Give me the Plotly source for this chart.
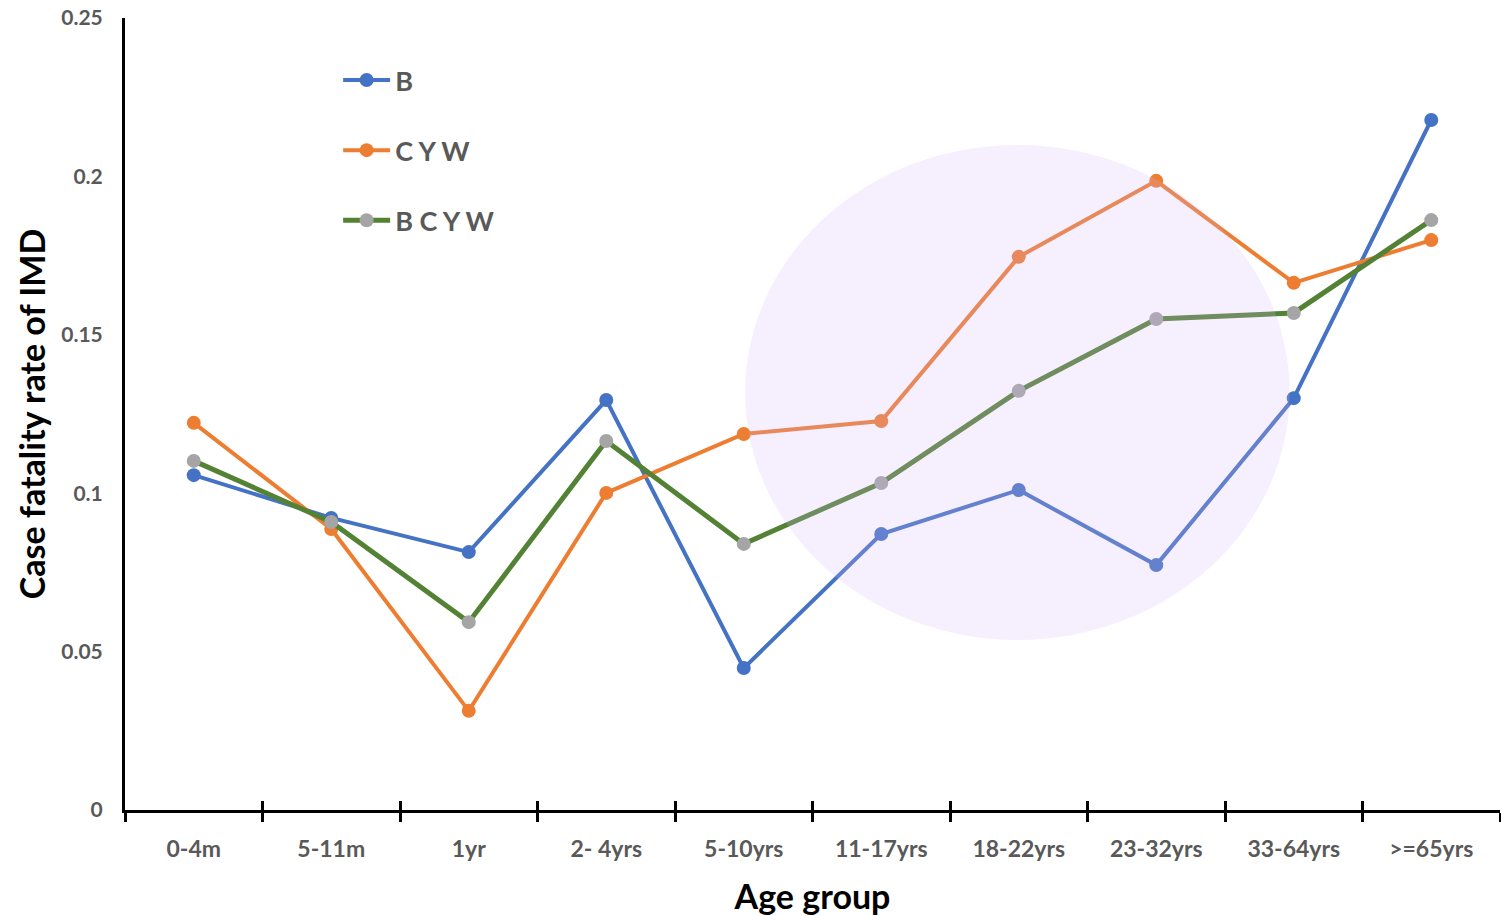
import plotly.graph_objects as go

age_groups = ["0-4m", "5-11m", "1yr", "2- 4yrs", "5-10yrs", "11-17yrs",
              "18-22yrs", "23-32yrs", "33-64yrs", ">=65yrs"]
b_vals = [0.1057, 0.0922, 0.0814, 0.1294, 0.0448, 0.0871, 0.1010, 0.0773, 0.1300, 0.2178]
cyw_vals = [0.1222, 0.0887, 0.0313, 0.1001, 0.1187, 0.1228, 0.1746, 0.1986, 0.1664, 0.1799]
bcyw_vals = [0.1102, 0.0909, 0.0593, 0.1165, 0.0840, 0.1032, 0.1323, 0.1550, 0.1569, 0.1862]
y_ticks = [0, 0.05, 0.1, 0.15, 0.2, 0.25]
y_tick_text = ["0", "0.05", "0.1", "0.15", "0.2", "0.25"]

FONT = "Lato"
GRAY = "#595959"

fig = go.Figure()
series = [
    ("B", b_vals, "#4472C4", "#4472C4", 4),
    ("C Y W", cyw_vals, "#ED7D31", "#ED7D31", 4),
    ("B C Y W", bcyw_vals, "#548235", "#A5A5A5", 5),
]
for i, (name, vals, lc, mc, lw) in enumerate(series):
    fig.add_trace(go.Scatter(
        x=age_groups, y=vals, name=name, mode="lines+markers",
        line=dict(color=lc, width=lw),
        marker=dict(color=mc, size=14, line=dict(width=0)),
        legendgroup=f"g{i}",
    ))

# invisible trace to carry the inside ticks of the overlay axis
fig.add_trace(go.Scatter(x=age_groups, y=b_vals, xaxis="x2", mode="lines",
                         line=dict(width=0), opacity=0, showlegend=False,
                         hoverinfo="skip"))

# highlight ellipse
fig.add_shape(type="circle", xref="x", yref="y",
              x0=4.01, x1=7.97, y0=0.0537, y1=0.2099,
              fillcolor="rgba(215,180,245,0.22)", line=dict(width=0),
              layer="above")

fig.update_layout(
    width=1501, height=916,
    margin=dict(l=125, r=1, t=18, b=106, autoexpand=False),
    plot_bgcolor="white", paper_bgcolor="white",
    font=dict(family=FONT, color=GRAY),
    showlegend=True,
    legend=dict(x=0.155, y=0.952, xanchor="left", yanchor="top",
                bgcolor="rgba(0,0,0,0)", tracegroupgap=32,
                font=dict(family=FONT, size=27, color=GRAY, weight="bold"),
                itemwidth=47),
    xaxis=dict(
        type="category", categoryorder="array", categoryarray=age_groups,
        range=[-0.5, 9.5], showline=True, linecolor="black", linewidth=3,
        ticks="outside", tickson="boundaries", ticklen=9, tickwidth=3,
        tickcolor="black", showgrid=False, zeroline=False, automargin=False,
        ticklabelstandoff=16,
        tickfont=dict(family=FONT, size=23, color=GRAY, weight="bold"),
        title=dict(text="Age group", standoff=26,
                   font=dict(family=FONT, size=34, color="black", weight="bold")),
    ),
    xaxis2=dict(
        type="category", categoryorder="array", categoryarray=age_groups,
        range=[-0.5, 9.5], overlaying="x", anchor="y", side="bottom",
        showline=False, ticks="inside", tickson="boundaries", ticklen=9,
        tickwidth=3, tickcolor="black", showticklabels=False,
        showgrid=False, zeroline=False, automargin=False,
    ),
    yaxis=dict(
        range=[0, 0.25], tickvals=y_ticks, ticktext=y_tick_text,
        showline=True, linecolor="black", linewidth=3, ticks="",
        showgrid=False, zeroline=False, ticklabelstandoff=15,
        ticklabeloverflow="allow", automargin=False,
        tickfont=dict(family=FONT, size=21, color=GRAY, weight="bold"),
        title=dict(text="Case fatality rate of IMD", standoff=6,
                   font=dict(family=FONT, size=34, color="black", weight="bold")),
    ),
)

fig.write_html("out.html",
               config={"displayModeBar": False},
               post_script="document.body.style.margin='0';"
                           "document.body.style.overflow='hidden';")
